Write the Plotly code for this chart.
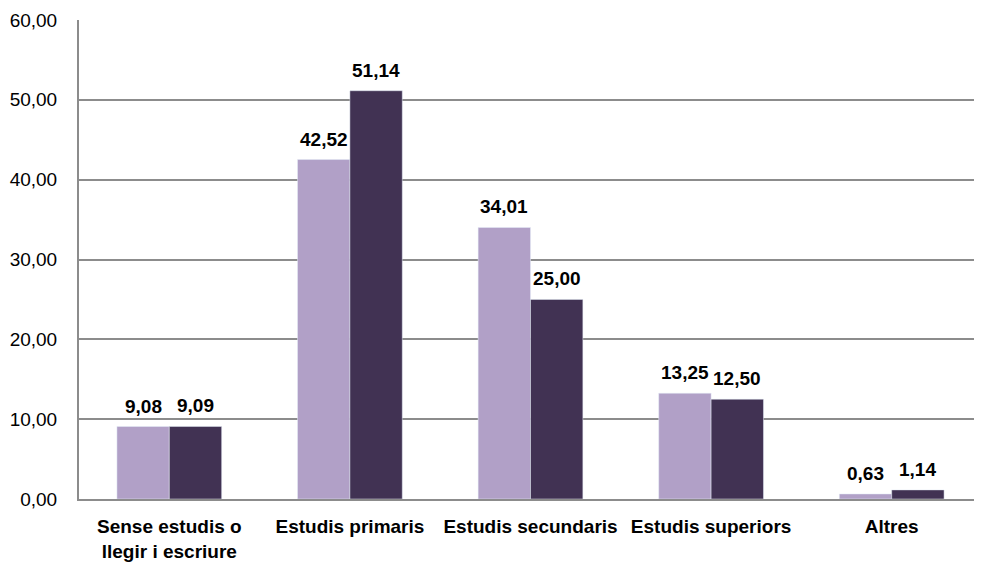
import plotly.graph_objects as go

categories = ["Sense estudis o<br>llegir i escriure", "Estudis primaris", "Estudis secundaris",
              "Estudis superiors", "Altres"]
series_a = [9.08, 42.52, 34.01, 13.25, 0.63]
series_b = [9.09, 51.14, 25.00, 12.50, 1.14]
y_ticks = [0, 10, 20, 30, 40, 50, 60]

font_family = "Liberation Sans, Arial, sans-serif"
colors = ["#B1A0C7", "#413253"]
bargap = 0.42
plot_w = 974 - 71
bar_w = plot_w / len(categories) * (1 - bargap) / 2

fig = go.Figure()
for vals, col in zip((series_a, series_b), colors):
    fig.add_trace(go.Bar(x=categories, y=vals, marker_color=col,
                         cliponaxis=False, showlegend=False))

for vals, shift in ((series_a, -bar_w / 2), (series_b, bar_w / 2)):
    for c, v in zip(categories, vals):
        fig.add_annotation(x=c, y=v, xref="x", yref="y",
                           text="<b>" + ("%.2f" % v).replace(".", ",") + "</b>",
                           showarrow=False, xshift=shift, yshift=8, yanchor="bottom",
                           font=dict(size=19, color="#000000", family=font_family))

fig.update_layout(
    width=974, height=558,
    margin=dict(l=71, r=0, t=12, b=67),
    paper_bgcolor="white", plot_bgcolor="white",
    separators=",.",
    barmode="group", bargap=bargap, bargroupgap=0,
    font=dict(family=font_family, color="#000000"),
    xaxis=dict(showline=True, linecolor="#8C8C8C", linewidth=2,
               tickfont=dict(size=19, family=font_family),
               ticks="", showgrid=False, ticklabelstandoff=9, automargin=False,
               tickvals=categories,
               ticktext=["<b>" + c + "</b>" for c in categories]),
    yaxis=dict(range=[0, 60], tickvals=y_ticks, tickformat=".2f",
               showline=True, linecolor="#8C8C8C", linewidth=2,
               gridcolor="#8C8C8C", gridwidth=1.5, automargin=False,
               tickfont=dict(size=19, family=font_family),
               ticks="", ticklabelstandoff=16, zeroline=False),
)

fig.write_html("out.html")
